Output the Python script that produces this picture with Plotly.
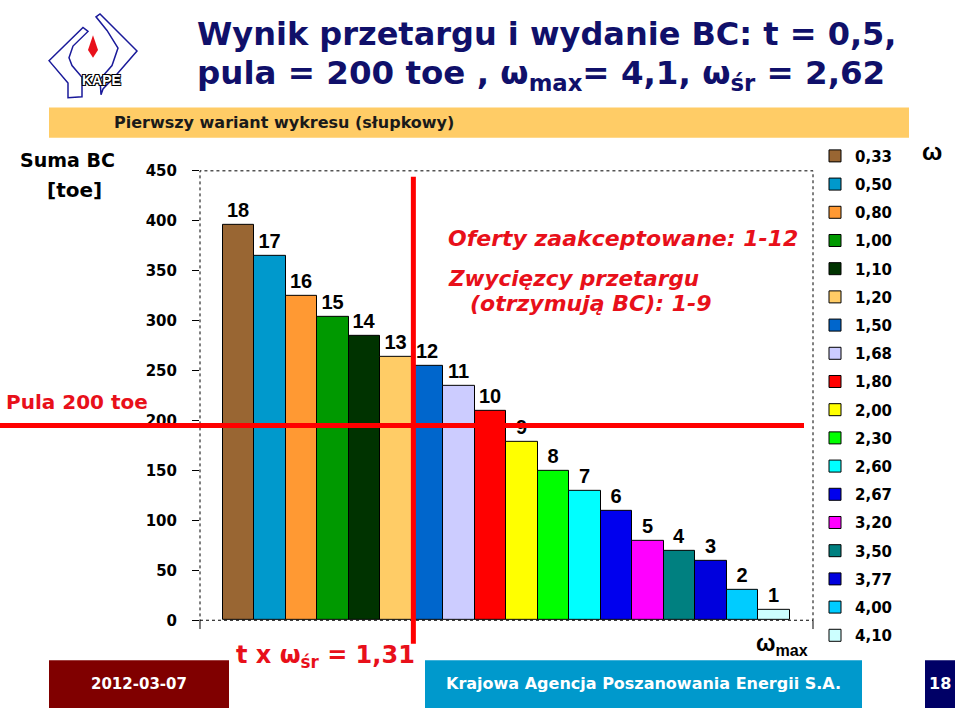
import plotly.graph_objects as go

W, H = 959, 717

# ---- data ----
offers = [18, 17, 16, 15, 14, 13, 12, 11, 10, 9, 8, 7, 6, 5, 4, 3, 2, 1]
omega = ["0,33", "0,50", "0,80", "1,00", "1,10", "1,20", "1,50", "1,68", "1,80",
         "2,00", "2,30", "2,60", "2,67", "3,20", "3,50", "3,77", "4,00", "4,10"]
cumulative_bc = [396, 365, 325, 304, 285, 264, 255, 235, 210, 179, 150, 130, 110, 80, 70, 60, 30, 10]
colors = ["#996633", "#0099CC", "#FF9933", "#009900", "#003300", "#FFCC66", "#0066CC", "#CCCCFF",
          "#FF0000", "#FFFF00", "#00FF00", "#00FFFF", "#0000EE", "#FF00FF", "#008080", "#0000DD",
          "#00CCFF", "#CCFFFF"]
y_ticks = [0, 50, 100, 150, 200, 250, 300, 350, 400, 450]
pool_line = 195
cut_position = 5.55


def px(x):
    return x / W


def py(y):
    return 1 - y / H


fig = go.Figure()
for i, (o, w, v, c) in enumerate(zip(offers, omega, cumulative_bc, colors)):
    fig.add_trace(go.Bar(
        x=[i], y=[v], width=1, name=w, legendgroup=w,
        marker=dict(color=c, line=dict(color="black", width=1)),
        text=[str(o)], textposition="outside", cliponaxis=False,
        textfont=dict(family="Liberation Sans", size=20, color="black", weight="bold"),
        hoverinfo="skip",
    ))

shapes = []
# logo
blue = "#1a1a9a"


def poly(points):
    return "M " + " L ".join("%f %f" % (px(a), py(b)) for a, b in points) + " Z"


shapes.append(dict(type="path", xref="paper", yref="paper",
                   path=poly([(49, 53), (83, 19), (88, 23), (73, 38), (69, 50), (72, 58), (82, 70),
                              (82, 90), (68, 91), (68, 76)]),
                   line=dict(color=blue, width=1.5)))
shapes.append(dict(type="path", xref="paper", yref="paper",
                   path=poly([(96, 8), (100, 5), (137, 43), (116, 68), (103, 82), (101, 88), (100, 72),
                              (112, 58), (118, 40), (107, 22)]),
                   line=dict(color=blue, width=1.5)))
shapes.append(dict(type="path", xref="paper", yref="paper",
                   path=poly([(93, 27), (98, 42), (93, 50), (88, 42)]),
                   fillcolor="#e8101a", line=dict(width=0)))
# banner
shapes.append(dict(type="rect", xref="paper", yref="paper", x0=px(49), x1=px(909), y0=py(132), y1=py(101),
                   fillcolor="#FFCC66", line=dict(width=0), layer="below"))
# footer boxes
shapes.append(dict(type="rect", xref="paper", yref="paper", x0=px(49), x1=px(229), y0=0, y1=py(668),
                   fillcolor="#800000", line=dict(width=0)))
shapes.append(dict(type="rect", xref="paper", yref="paper", x0=px(425), x1=px(862), y0=0, y1=py(668),
                   fillcolor="#0099CC", line=dict(width=0)))
shapes.append(dict(type="rect", xref="paper", yref="paper", x0=px(925), x1=px(955), y0=0, y1=py(668),
                   fillcolor="#000066", line=dict(width=0)))
# plot frame (dotted)
shapes.append(dict(type="rect", xref="paper", yref="paper", x0=px(200), x1=px(813), y0=py(627), y1=py(166),
                   line=dict(color="black", width=1, dash="dot"), layer="below"))
# end ticks of category axis
for xe in (200, 813):
    shapes.append(dict(type="line", xref="paper", yref="paper", x0=px(xe), x1=px(xe), y0=py(627), y1=py(636),
                       line=dict(color="black", width=1)))
# pool line and cut-off line
shapes.append(dict(type="line", xref="paper", yref="y", x0=0, x1=px(804), y0=pool_line, y1=pool_line,
                   line=dict(color="#FF0000", width=5), layer="above"))
shapes.append(dict(type="line", xref="x", yref="paper", x0=cut_position, x1=cut_position,
                   y0=py(651), y1=py(172), line=dict(color="#FF0000", width=5), layer="above"))

navy = "#10106a"
red = "#E8101A"
ann = []


def add(text, x, y, size, color="black", family="Liberation Sans", xanchor="left", italic=False, weight="bold", shadow=None):
    f = dict(family=family, size=size, color=color, weight=weight)
    if italic:
        f["style"] = "italic"
    if shadow:
        f["shadow"] = shadow
    ann.append(dict(text=text, x=px(x), y=py(y), xref="paper", yref="paper", showarrow=False,
                    xanchor=xanchor, yanchor="middle", font=f))


add("KAPE", 101, 73, 14, color="white", xanchor="center",
    shadow="-1px -1px 0 #000, 1px -1px 0 #000, -1px 1px 0 #000, 1px 1px 0 #000")
add("Wynik przetargu i wydanie BC: t = 0,5,", 195, 26, 32, color=navy, family="DejaVu Sans")
add("pula = 200 toe , ω<sub>max</sub>= 4,1, ω<sub>śr</sub> = 2,62", 195, 68, 32.5, color=navy, family="DejaVu Sans")
add("Pierwszy wariant wykresu (słupkowy)", 112, 116, 16, color="#1a1a1a", family="DejaVu Sans")
add("Suma BC", 18, 155, 19, family="DejaVu Sans")
add("[toe]", 45, 186, 20, family="DejaVu Sans")
add("Pula 200 toe", 4, 403, 20, color=red, family="DejaVu Sans")
add("Oferty zaakceptowane: 1-12", 446, 235, 22, color=red, family="DejaVu Sans", italic=True)
add("Zwycięzcy przetargu", 446, 276, 21.5, color=red, family="DejaVu Sans", italic=True)
add("(otrzymują BC): 1-9", 468, 302, 22, color=red, family="DejaVu Sans", italic=True)
add("t x ω<sub>śr</sub> = 1,31", 234, 664, 24, color=red, family="DejaVu Sans")
add("ω<sub>max</sub>", 754, 652, 23)
add("ω", 920, 146, 24)
add("2012-03-07", 139, 692, 15, color="white", family="DejaVu Sans", xanchor="center")
add("Krajowa Agencja Poszanowania Energii S.A.", 444, 692, 16, color="white", family="DejaVu Sans")
add("18", 940, 692, 16, color="white", family="DejaVu Sans", xanchor="center")

fig.update_layout(
    width=W, height=H, margin=dict(l=0, r=0, t=0, b=0),
    paper_bgcolor="white", plot_bgcolor="white",
    bargap=0, barmode="overlay",
    shapes=shapes, annotations=ann,
    showlegend=True,
    legend=dict(x=px(815), xanchor="left", y=py(134), yanchor="top", tracegroupgap=5.7,
                font=dict(family="DejaVu Sans", size=15, color="black", weight="bold"),
                bgcolor="rgba(0,0,0,0)"),
    xaxis=dict(domain=[px(200), px(813)], range=[-1.22, 18.23], showgrid=False, zeroline=False,
               showticklabels=False, ticks="", showline=False, fixedrange=True),
    yaxis=dict(domain=[py(627), py(166)], range=[0, 450], tickvals=y_ticks, showgrid=False,
               zeroline=False, ticks="outside", ticklen=7, tickcolor="black", showline=False,
               ticklabelstandoff=12,
               tickfont=dict(family="DejaVu Sans", size=15, color="black", weight="bold")),
)

fig.write_html("out.html")
